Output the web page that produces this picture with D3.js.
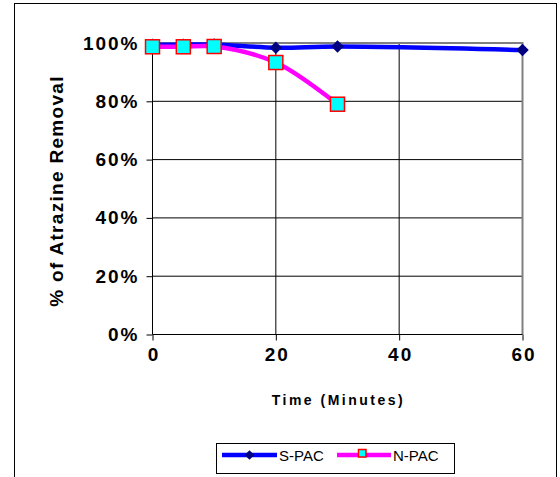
<!DOCTYPE html>
<html>
<head>
<meta charset="utf-8">
<script src="https://cdn.jsdelivr.net/npm/d3@7"></script>
<style>
body { margin: 0; background: #fff; }
text { font-family: Arial, "Liberation Sans", sans-serif; }
</style>
</head>
<body>
<div id="chart"></div>
<script>
var svgWidth = 560;
var svgHeight = 477;

// data
var sTimes = [0, 5, 10, 20, 30, 60];
var sValues = [99.4, 99.4, 99.5, 98.4, 98.8, 97.6];
var nTimes = [0, 5, 10, 20, 30];
var nValues = [98.7, 98.7, 98.8, 93.3, 79.0];
var xTicks = [0, 20, 40, 60];
var yTicks = [0, 20, 40, 60, 80, 100];

var margin = { top: 43, left: 152.5 };
var width = 370;
var height = 291.5;

var svg = d3.select("#chart")
  .append("svg")
  .attr("width", svgWidth)
  .attr("height", svgHeight);

// outer frame
svg.append("rect")
  .attr("x", 14.5).attr("y", 3.5)
  .attr("width", 542).attr("height", 480)
  .attr("fill", "none").attr("stroke", "#000").attr("stroke-width", 1);

var chartGroup = svg.append("g")
  .attr("transform", `translate(${margin.left}, ${margin.top})`);

var x = d3.scaleLinear().domain([0, 60]).range([0, width]);
var y = d3.scaleLinear().domain([0, 100]).range([height, 0]);

// gridlines
chartGroup.selectAll(".hgrid").data([20, 40, 60, 80]).enter()
  .append("line")
  .attr("x1", 0).attr("x2", width)
  .attr("y1", d => y(d)).attr("y2", d => y(d))
  .attr("stroke", "#000");
chartGroup.selectAll(".vgrid").data([20, 40]).enter()
  .append("line")
  .attr("x1", d => x(d)).attr("x2", d => x(d))
  .attr("y1", 0).attr("y2", height)
  .attr("stroke", "#000");

// plot border top/right grey
chartGroup.append("path")
  .attr("d", `M0,0H${width}V${height}`)
  .attr("fill", "none").attr("stroke", "#808080").attr("stroke-width", 2);

// axes
var leftAxis = d3.axisLeft(y).tickValues(yTicks).tickSize(6).tickFormat(d => d + "%");
var bottomAxis = d3.axisBottom(x).tickValues(xTicks).tickSize(6).tickFormat(d3.format("d"));

var yAx = chartGroup.append("g").call(leftAxis);
yAx.select(".domain").attr("d", `M0,0V${height}`).attr("stroke", "#000");
yAx.selectAll("text")
  .attr("x", -13)
  .attr("font-size", "19px").attr("font-weight", "bold")
  .attr("letter-spacing", "2px")
  .attr("font-family", "Arial, 'Liberation Sans', sans-serif")
  .attr("fill", "#000");

var xAx = chartGroup.append("g")
  .attr("transform", `translate(0, ${height})`)
  .call(bottomAxis);
xAx.select(".domain").attr("d", `M0,0H${width}`).attr("stroke", "#000");
xAx.selectAll("text")
  .attr("y", 13)
  .attr("dx", 1)
  .attr("font-size", "19px").attr("font-weight", "bold")
  .attr("letter-spacing", "2px")
  .attr("font-family", "Arial, 'Liberation Sans', sans-serif")
  .attr("fill", "#000");

// axis titles
chartGroup.append("text")
  .attr("transform", "rotate(-90)")
  .attr("x", -148)
  .attr("y", -90)
  .attr("text-anchor", "middle")
  .attr("font-size", "19px").attr("font-weight", "bold")
  .attr("letter-spacing", "1.3px")
  .text("% of Atrazine Removal");

chartGroup.append("text")
  .attr("x", x(30) + 1)
  .attr("y", height + 70)
  .attr("text-anchor", "middle")
  .attr("font-size", "14px").attr("font-weight", "bold")
  .attr("letter-spacing", "2.5px")
  .text("Time (Minutes)");

// lines
var line = d3.line()
  .x(d => x(d[0])).y(d => y(d[1]))
  .curve(d3.curveCatmullRom.alpha(0.5));

var sData = d3.zip(sTimes, sValues);
var nData = d3.zip(nTimes, nValues);

chartGroup.append("path").datum(sData)
  .attr("d", line)
  .attr("fill", "none").attr("stroke", "#0000ff").attr("stroke-width", 4.5);

chartGroup.append("path").datum(nData)
  .attr("d", line)
  .attr("fill", "none").attr("stroke", "#ff00ff").attr("stroke-width", 4.5);

var diamond = d3.symbol().type(d3.symbolDiamond2).size(100);

chartGroup.selectAll(".sdot").data(sData).enter()
  .append("path")
  .attr("d", diamond)
  .attr("transform", d => `translate(${x(d[0])},${y(d[1])})`)
  .attr("fill", "#000080");

chartGroup.selectAll(".ndot").data(nData).enter()
  .append("rect")
  .attr("x", d => x(d[0]) - 7).attr("y", d => y(d[1]) - 7)
  .attr("width", 14).attr("height", 14)
  .attr("fill", "#00ffff").attr("stroke", "#ff0000").attr("stroke-width", 1.5);

// legend
var legend = svg.append("g");
legend.append("rect")
  .attr("x", 216.5).attr("y", 443.5)
  .attr("width", 238).attr("height", 30)
  .attr("fill", "#fff").attr("stroke", "#000");

legend.append("line")
  .attr("x1", 222).attr("x2", 277).attr("y1", 455).attr("y2", 455)
  .attr("stroke", "#0000ff").attr("stroke-width", 4.5);
legend.append("path")
  .attr("d", d3.symbol().type(d3.symbolDiamond2).size(60))
  .attr("transform", "translate(249.5,455)")
  .attr("fill", "#000080");
legend.append("text")
  .attr("x", 279).attr("y", 461)
  .attr("font-size", "15px")
  .text("S-PAC");

legend.append("line")
  .attr("x1", 337).attr("x2", 391).attr("y1", 455).attr("y2", 455)
  .attr("stroke", "#ff00ff").attr("stroke-width", 4.5);
legend.append("rect")
  .attr("x", 358.5).attr("y", 449.5).attr("width", 7.5).attr("height", 7.5)
  .attr("fill", "#00ffff").attr("stroke", "#ff0000").attr("stroke-width", 1.5);
legend.append("text")
  .attr("x", 393).attr("y", 461)
  .attr("font-size", "15px")
  .text("N-PAC");
</script>
</body>
</html>
